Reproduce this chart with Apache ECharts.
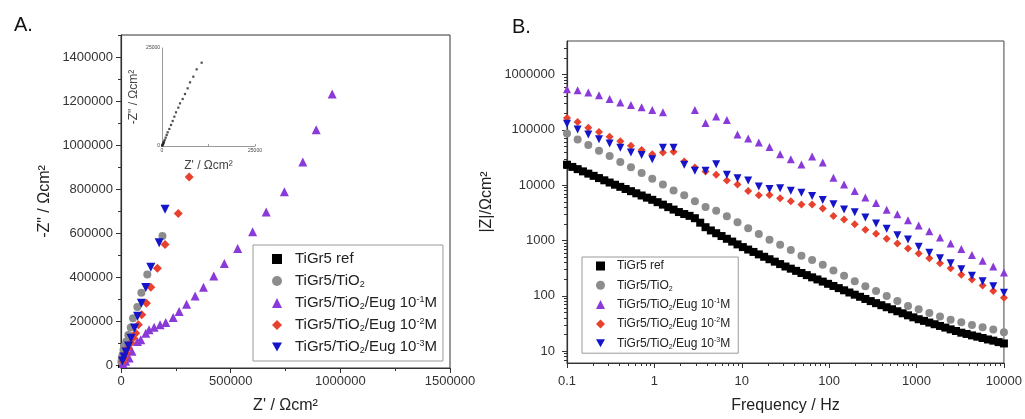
<!DOCTYPE html>
<html><head><meta charset="utf-8">
<script src="https://cdn.jsdelivr.net/npm/echarts@6/dist/echarts.min.js"></script>
<style>html,body{margin:0;padding:0;background:#fff}#c{width:1025px;height:419px}</style>
</head><body><div id="c"></div>
<script>
const FONT = "'Liberation Sans', Arial, Helvetica, sans-serif";
const seriesNames = ['TiGr5 ref', 'TiGr5/TiO2', 'TiGr5/TiO2/Eug 10-1M', 'TiGr5/TiO2/Eug 10-2M', 'TiGr5/TiO2/Eug 10-3M'];
const legendLabels = ['TiGr5 ref', 'TiGr5/TiO{sub|2}', 'TiGr5/TiO{sub|2}/Eug 10{sup|-1}M', 'TiGr5/TiO{sub|2}/Eug 10{sup|-2}M', 'TiGr5/TiO{sub|2}/Eug 10{sup|-3}M'];
const colors = ['#000000', '#8c8c8c', '#8a3ad8', '#e8412e', '#1414c8'];
const symbols = ['rect', 'circle', 'triangle', 'diamond', 'path://M0,0 L10,0 L5,9 Z'];

// ---- Panel A : Nyquist (Z', -Z'') ----
const nyqRefRe = [50,100,180,270,360,450,540,720,990,1250,1520,1970,2420,2870,3320,3760,4390,4840,5560,6180,6900,7530,8420,9320,10660];
const nyqRefIm = [80,200,340,500,680,900,1110,1530,2130,2810,3490,4340,5360,6380,7480,8590,9780,10880,11990,13260,14710,16240,17680,19550,21250];
const nyqTiO2Re = [1800,3700,6900,11400,17000,24200,33400,44400,54900,74500,92800,120000,189000];
const nyqTiO2Im = [14000,27000,45000,68000,88000,107000,137000,171000,213000,264000,329000,412000,586000];
const nyqEug1Re = [9000,21000,37000,50000,75000,90000,113000,128000,151000,178000,204000,238000,265000,299000,338000,376000,423000,471000,532000,600000,662000,745000,829000,890000,963000];
const nyqEug1Im = [7000,17000,32000,63000,107000,115000,145000,160000,172000,183000,193000,216000,243000,276000,314000,353000,405000,462000,530000,606000,696000,787000,923000,1069000,1232000];
const nyqEug2Re = [9100,16900,24200,33400,44400,54900,67200,79100,94700,116000,136000,166000,201000,261000,311000];
const nyqEug2Im = [16800,34900,54400,77000,99700,122000,145000,183000,228000,281000,353000,440000,548000,689000,855000];
const nyqEug3Re = [6900,13700,22900,34300,45700,61700,75500,92800,113000,136000,174000,201000];
const nyqEug3Im = [18000,36000,59000,86000,122000,168000,222000,281000,352000,444000,556000,708000];

const aTicksY = [0,200000,400000,600000,800000,1000000,1200000,1400000];
const aMinorY = [100000,300000,500000,700000,900000,1100000,1300000,1500000];

// ---- Panel B : Bode |Z| vs frequency ----
const freqRef = [0.1,0.1151,0.1324,0.1524,0.1754,0.2018,0.2323,0.2673,0.3076,0.354,0.4074,0.4688,0.5395,0.6208,0.7144,0.8216,0.9454,1.088,1.252,1.441,1.658,1.908,2.195,2.526,2.907,3.345,3.849,4.43,5.097,5.866,6.75,7.768,8.938,10.29,11.84,13.62,15.67,18.04,20.76,23.88,27.48,31.62,36.39,41.88,48.19,55.45,63.82,73.42,84.51,97.23,111.9,128.8,148.2,170.5,196.2,225.8,259.8,299,344.1,395.9,455.6,524.3,603.4,694.3,799,919.4,1058,1217,1401,1612,1855,2135,2456,2827,3253,3743,4307,4956,5704,6563,7553,8691,10000];
const freqB = freqRef.filter((f, i) => i % 2 === 0);
const bodeRef = [23440,21380,19500,17750,16180,14750,13430,12250,11160,10200,9330,8530,7800,7130,6510,5950,5440,4930,4450,4010,3620,3270,3010,2790,2530,2100,1740,1520,1355,1205,1074,957,851,761,687,622,562,508,459,415,375,339,310,283,259,237,216,198,181,165,151,138,126,115,105,96.2,87.9,80.4,73.8,67.8,62.3,57.3,52.7,48.4,44.5,40.9,37.8,35.3,32.9,30.7,28.6,26.7,24.8,23.2,21.6,20.5,19.3,18.3,17.3,16.3,15.5,14.6,13.8];
const bodeTiO2 = [85600,67000,53000,42100,33800,26100,21000,16600,13000,10300,8050,6610,5130,4050,3460,2740,2140,1660,1310,1030,841,671,532,446,364,288,232,183,149,122,99.1,80.7,65.9,57.5,48.8,42.5,37.1,33.2,29.9,27.1,24.6,22.0];
const bodeEug1 = [541000,519000,472000,423000,359000,313000,281000,255000,229000,208000,null,null,229000,133000,174000,150000,82000,69700,59200,48800,36200,29500,23600,33000,25800,13600,10300,7850,5970,4770,3610,2970,2330,1860,1470,1130,881,700,547,433,339,265];
const bodeEug2 = [163000,138000,109000,91800,74800,62400,51700,43200,36200,38800,40000,26900,20800,17700,15500,12100,10300,7850,6560,6670,5800,5130,4480,4480,3800,2780,2400,1970,1560,1330,1080,881,718,585,476,388,316,241,197,154,122,92.5];
const bodeEug3 = [129000,101000,82200,67800,56800,47600,38800,35200,29500,47600,47600,23300,18300,18300,24000,15500,13400,12100,9480,8530,8810,7940,7320,6400,5380,4540,3620,3230,2600,2030,1630,1240,1040,769,601,476,388,303,232,183,149,114];

const bTicksX = [0.1,1,10,100,1000,10000];
const bTicksY = [10,100,1000,10000,100000,1000000];
const bMinorX = [], bMinorY = [];
[0.1,1,10,100,1000].forEach(d => { for (let k = 2; k <= 9; k++) bMinorX.push(+(k*d).toPrecision(3)); });
[1,10,100,1000,10000,100000,1000000].forEach(d => { for (let k = 2; k <= 9; k++) { const v = k*d; if (v > 6.2 && v < 4.0e6) bMinorY.push(v); } });

const pairs = (xs, ys) => xs.map((x, i) => ys[i] == null ? null : [x, ys[i]]).filter(p => p);

const axisCol = '#333';
const labelStyle = { fontFamily: FONT, fontSize: 13, color: '#333' };
const nameStyle = { fontFamily: FONT, fontSize: 16, color: '#222' };

function legendRich(fs) {
  return {
    sub: { fontFamily: FONT, fontSize: Math.round(fs*0.62), lineHeight: Math.round(fs*0.6), verticalAlign: 'bottom', color: '#222' },
    sup: { fontFamily: FONT, fontSize: Math.round(fs*0.62), lineHeight: Math.round(fs*0.6), verticalAlign: 'top', color: '#222' }
  };
}
const nameFmt = n => legendLabels[seriesNames.indexOf(n)];

const chart = echarts.init(document.getElementById('c'), null, { renderer: 'canvas' });

const nyqX = [nyqRefRe, nyqTiO2Re, nyqEug1Re, nyqEug2Re, nyqEug3Re];
const nyqY = [nyqRefIm, nyqTiO2Im, nyqEug1Im, nyqEug2Im, nyqEug3Im];
const bodeX = [freqRef, freqB, freqB, freqB, freqB];
const bodeY = [bodeRef, bodeTiO2, bodeEug1, bodeEug2, bodeEug3];
const sizeA = [6, 8, 9, 9, 9];
const sizeB = [8, 8, 8, 8, 8];

const series = [];
seriesNames.forEach((n, i) => {
  series.push({ name: n, type: 'scatter', xAxisIndex: 0, yAxisIndex: 0, symbol: symbols[i], symbolSize: sizeA[i],
    itemStyle: { color: colors[i], opacity: 1 }, data: pairs(nyqX[i], nyqY[i]), z: 2 + i, silent: true });
});
seriesNames.forEach((n, i) => {
  series.push({ name: n, type: 'scatter', xAxisIndex: 1, yAxisIndex: 2, symbol: symbols[i], symbolSize: sizeB[i],
    itemStyle: { color: colors[i], opacity: 1 }, data: pairs(bodeX[i], bodeY[i]), z: 2 + i, silent: true });
});
// inset (TiGr5 ref, zoomed)
series.push({ name: 'inset', type: 'scatter', xAxisIndex: 3, yAxisIndex: 4, symbol: 'rect', symbolSize: 2.2,
  itemStyle: { color: '#222' }, data: pairs(nyqRefRe, nyqRefIm), silent: true });

const option = {
  animation: false,
  backgroundColor: '#fff',
  textStyle: { fontFamily: FONT },
  title: [
    { text: 'A.', left: 9, top: 10, textStyle: { fontFamily: FONT, fontSize: 20, fontWeight: 'normal', color: '#111' } },
    { text: 'B.', left: 507, top: 12, textStyle: { fontFamily: FONT, fontSize: 20, fontWeight: 'normal', color: '#111' } }
  ],
  legend: [
    { data: seriesNames, orient: 'vertical', left: 253, top: 245, itemWidth: 10, itemHeight: 10, itemGap: 6,
      padding: [6, 6, 6, 19], borderColor: '#9a9a9a', borderWidth: 1, selectedMode: false, formatter: nameFmt,
      textStyle: { fontFamily: FONT, fontSize: 15, color: '#222', lineHeight: 16, padding: [0, 0, 0, 8], rich: legendRich(15) } },
    { data: seriesNames, orient: 'vertical', left: 582, top: 257, itemWidth: 9, itemHeight: 9, itemGap: 5.3,
      padding: [2, 8, 3, 14], borderColor: '#9a9a9a', borderWidth: 1, selectedMode: false, formatter: nameFmt,
      textStyle: { fontFamily: FONT, fontSize: 12, color: '#222', lineHeight: 14, padding: [0, 0, 0, 7], rich: legendRich(12) } }
  ],
  grid: [
    { left: 121, top: 35, width: 329, height: 335, show: true, borderColor: '#333', borderWidth: 1, backgroundColor: 'transparent' },
    { left: 567, top: 41, width: 439, height: 327, show: true, borderColor: '#444', borderWidth: 1, backgroundColor: 'transparent' },
    { left: 162, top: 48, width: 93, height: 98 }
  ],
  xAxis: [
    { gridIndex: 0, type: 'value', min: 0, max: 1500000, interval: 500000, position: 'bottom',
      axisLine: { onZero: false, lineStyle: { color: axisCol, width: 1.2 } },
      axisTick: { length: 5, lineStyle: { color: axisCol } },
      minorTick: { show: true, splitNumber: 2, length: 3, lineStyle: { color: axisCol } },
      splitLine: { show: false }, minorSplitLine: { show: false },
      axisLabel: Object.assign({ margin: 7, formatter: v => String(v) }, labelStyle),
      name: "Z' / Ωcm²", nameLocation: 'middle', nameGap: 30, nameTextStyle: nameStyle },
    { gridIndex: 1, type: 'log', logBase: 10, min: 0.1, max: 10000, position: 'bottom',
      axisLine: { onZero: false, lineStyle: { color: axisCol, width: 1.2 } },
      axisTick: { length: 5, customValues: bTicksX, lineStyle: { color: axisCol } },
      splitLine: { show: false },
      axisLabel: Object.assign({ margin: 12, customValues: bTicksX, formatter: v => String(+v.toPrecision(6)) }, labelStyle),
      name: 'Frequency / Hz', nameLocation: 'middle', nameGap: 35, nameTextStyle: nameStyle },
    { gridIndex: 1, type: 'log', logBase: 10, min: 0.1, max: 10000, position: 'bottom',
      axisLine: { show: false, onZero: false }, axisLabel: { show: false }, splitLine: { show: false },
      axisTick: { length: 3, customValues: bMinorX, lineStyle: { color: axisCol } } },
    { gridIndex: 2, type: 'value', min: 0, max: 25000, interval: 12500, position: 'bottom',
      axisLine: { onZero: false, lineStyle: { color: '#9a9a9a', width: 1 } },
      axisTick: { length: 2, inside: true, lineStyle: { color: '#9a9a9a' } },
      splitLine: { show: false },
      axisLabel: { margin: 2, fontSize: 5, color: '#444', fontFamily: FONT, formatter: v => (v === 12500 ? '' : String(v)) },
      name: "Z' / Ωcm²", nameLocation: 'middle', nameGap: 14, nameTextStyle: { fontFamily: FONT, fontSize: 12, color: '#444' } }
  ],
  yAxis: [
    { gridIndex: 0, type: 'value', min: -13500, max: 1500000, position: 'left',
      axisLine: { onZero: false, lineStyle: { color: axisCol, width: 1.2 } },
      axisTick: { length: 5, customValues: aTicksY, lineStyle: { color: axisCol } },
      splitLine: { show: false },
      axisLabel: Object.assign({ margin: 8, customValues: aTicksY, formatter: v => String(v) }, labelStyle),
      name: '-Z" / Ωcm²', nameLocation: 'middle', nameGap: 68, nameTextStyle: nameStyle },
    { gridIndex: 0, type: 'value', min: -13500, max: 1500000, position: 'left',
      axisLine: { show: false, onZero: false }, axisLabel: { show: false }, splitLine: { show: false },
      axisTick: { length: 3, customValues: aMinorY, lineStyle: { color: axisCol } } },
    { gridIndex: 1, type: 'log', logBase: 10, min: 6.12, max: 4030000, position: 'left',
      axisLine: { onZero: false, lineStyle: { color: axisCol, width: 1.2 } },
      axisTick: { length: 5, customValues: bTicksY, lineStyle: { color: axisCol } },
      splitLine: { show: false },
      axisLabel: Object.assign({ margin: 12, customValues: bTicksY, formatter: v => String(Math.round(v)) }, labelStyle),
      name: '|Z|/Ωcm²', nameLocation: 'middle', nameGap: 72, nameTextStyle: nameStyle },
    { gridIndex: 1, type: 'log', logBase: 10, min: 6.12, max: 4030000, position: 'left',
      axisLine: { show: false, onZero: false }, axisLabel: { show: false }, splitLine: { show: false },
      axisTick: { length: 3, customValues: bMinorY, lineStyle: { color: axisCol } } },
    { gridIndex: 2, type: 'value', min: 0, max: 25000, interval: 25000, position: 'left',
      axisLine: { onZero: false, lineStyle: { color: '#9a9a9a', width: 1 } },
      axisTick: { show: false },
      splitLine: { show: false },
      axisLabel: { margin: 2, fontSize: 5, color: '#444', fontFamily: FONT, formatter: v => String(v) },
      name: '-Z" / Ωcm²', nameLocation: 'middle', nameGap: 22, nameTextStyle: { fontFamily: FONT, fontSize: 12, color: '#444' } }
  ],
  series: series
};
chart.setOption(option);
</script>
</body></html>
